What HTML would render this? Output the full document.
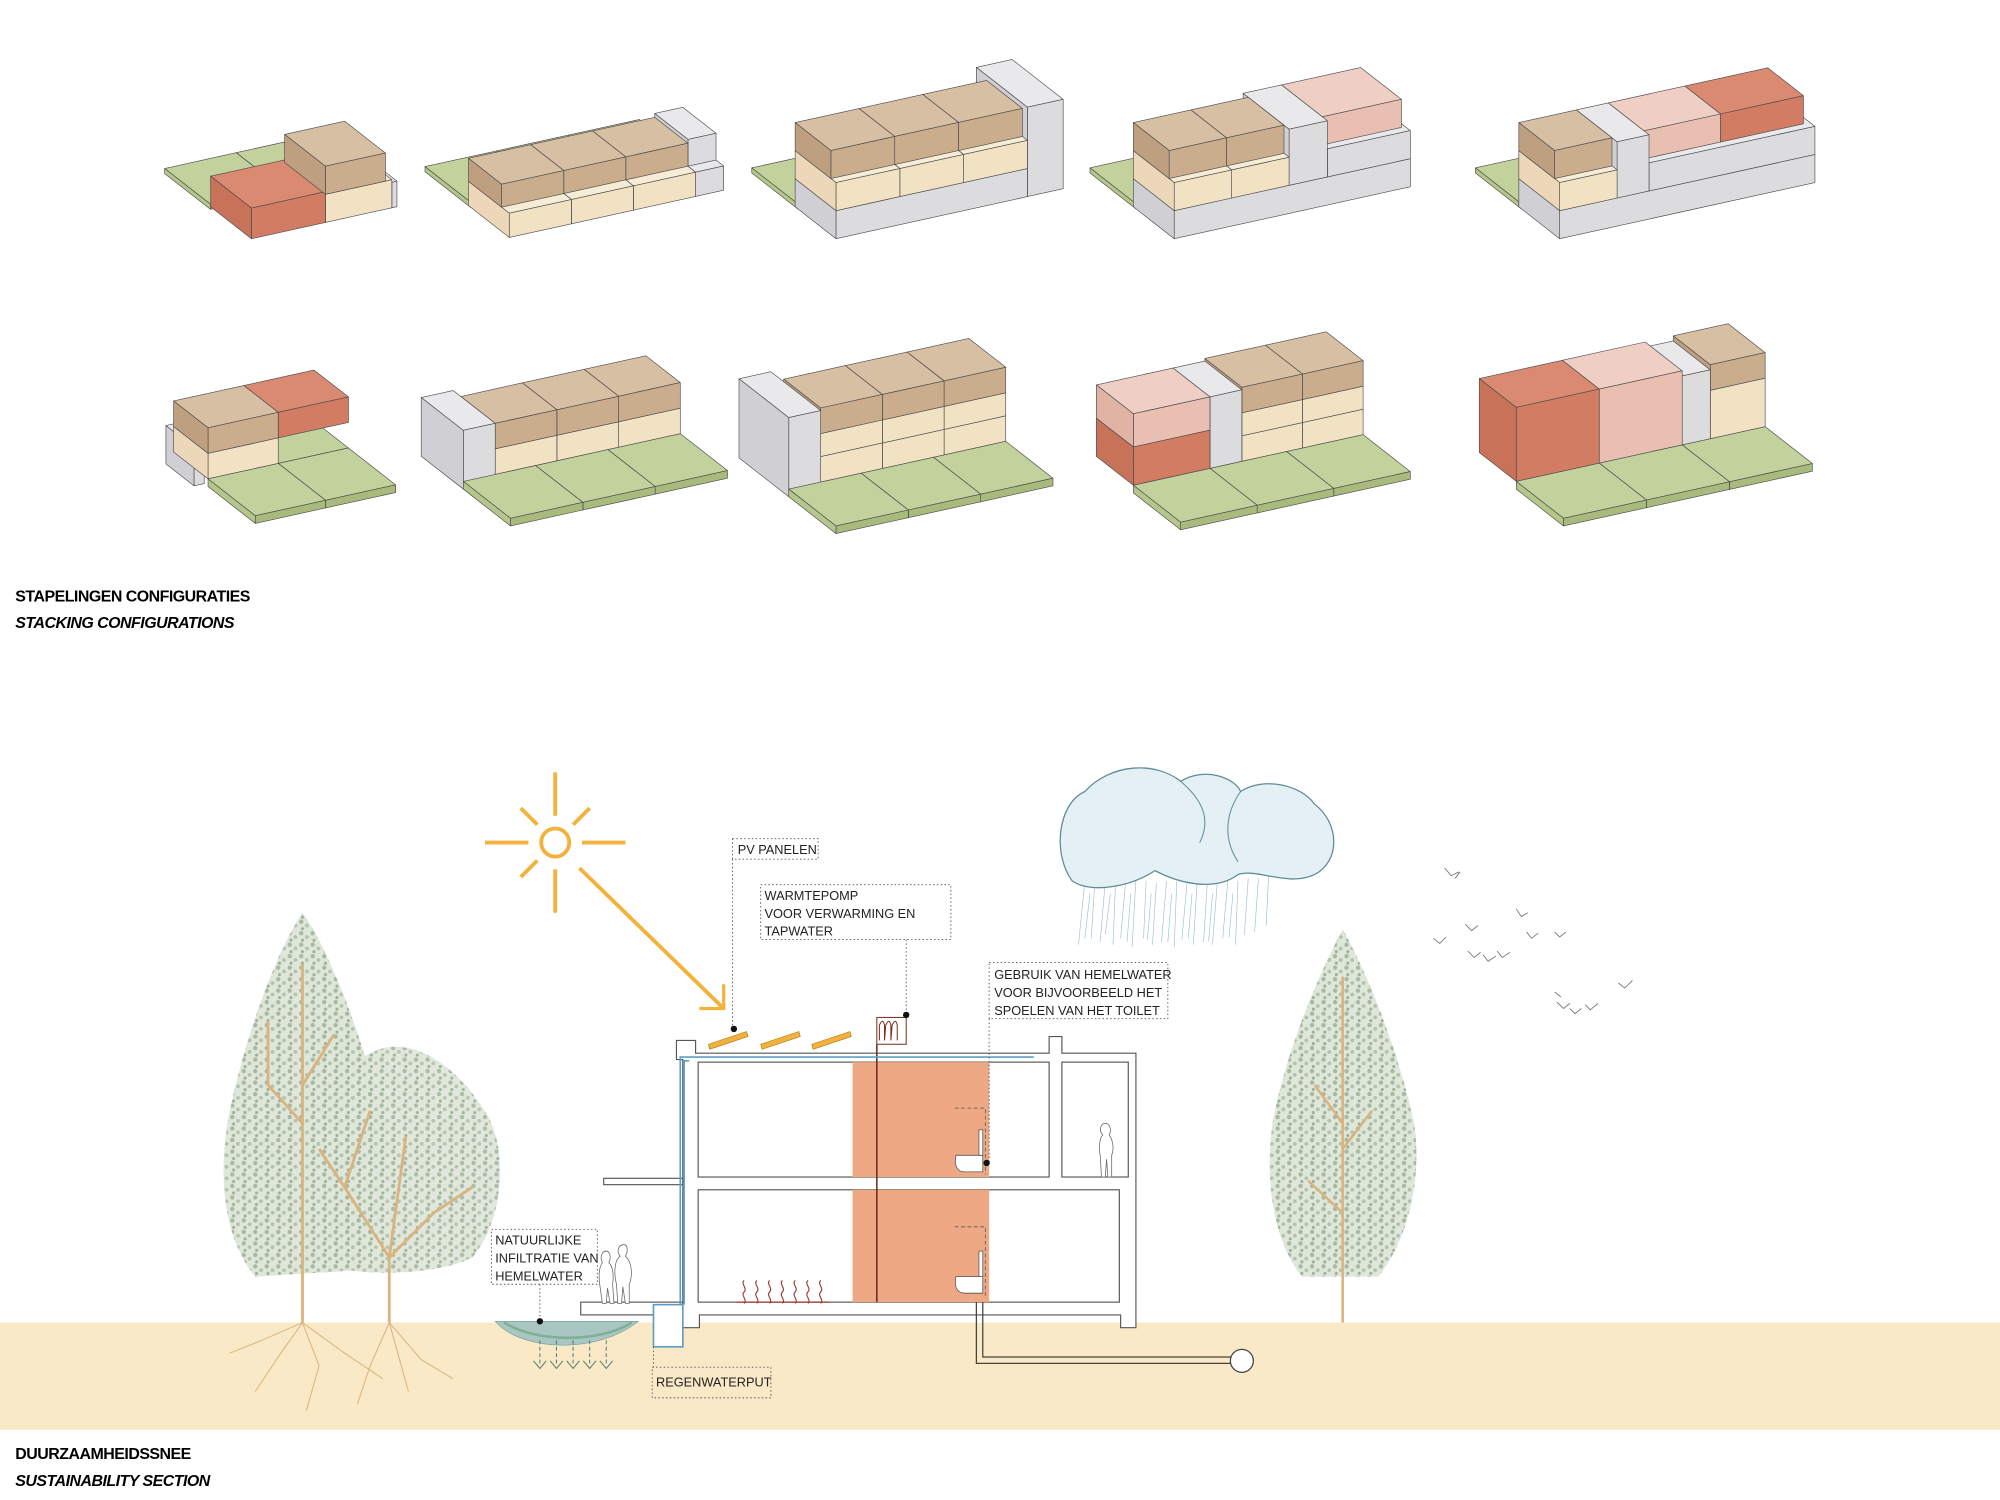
<!DOCTYPE html>
<html><head><meta charset="utf-8"><style>
html,body{margin:0;padding:0;background:#fff;}
svg{display:block;}
</style></head><body>
<svg id="s" width="2000" height="1500" viewBox="0 0 1567 1175" preserveAspectRatio="none" xmlns="http://www.w3.org/2000/svg" font-family="'Liberation Sans', sans-serif">
<defs>
<pattern id="leaf" width="9" height="9" patternUnits="userSpaceOnUse">
<rect width="9" height="9" fill="#dfe6da"/>
<circle cx="2" cy="2" r="1.7" fill="#a7b9a0"/><circle cx="6.5" cy="5" r="1.5" fill="#b3c3ab"/><circle cx="3" cy="7.5" r="1.2" fill="#9cb094"/>
</pattern>
</defs>
<rect width="1567" height="1175" fill="#fff"/>
<g id="iso" stroke="#4a4a4a" stroke-width="0.5" stroke-linejoin="round"></g>

<text x="12" y="471" font-size="12.5" font-weight="bold" letter-spacing="-0.4">STAPELINGEN CONFIGURATIES</text>
<text x="12" y="492" font-size="12.5" font-weight="bold" font-style="italic" letter-spacing="-0.4">STACKING CONFIGURATIONS</text>
<text x="12" y="1143" font-size="12.5" font-weight="bold" letter-spacing="-0.4">DUURZAAMHEIDSSNEE</text>
<text x="12" y="1164" font-size="12.5" font-weight="bold" font-style="italic" letter-spacing="-0.4">SUSTAINABILITY SECTION</text>

<rect x="0" y="1036" width="1567" height="84" fill="#fae9c6"/>

<!-- trees -->
<g>
<path d="M237 715 C255 740 280 800 295 860 C305 900 305 960 280 995 L200 1000 C175 970 170 920 180 870 C195 800 220 740 237 715Z" fill="url(#leaf)"/>
<path d="M310 820 C340 820 370 850 385 880 C398 910 392 960 370 985 C340 1000 280 1000 250 990 C235 960 240 900 255 860 C270 835 290 820 310 820Z" fill="url(#leaf)" opacity="0.95"/>
<g stroke="#d9b47f" stroke-width="2.2" fill="none">
<line x1="237" y1="755" x2="237" y2="1036"/>
<line x1="305" y1="985" x2="305" y2="1036"/>
<path d="M237 880 L210 850 L210 800 M237 850 L262 810 M305 985 L270 930 L250 900 M305 985 L340 950 L370 930 M305 985 L318 890 M270 930 L290 870"/>
</g>
<g stroke="#d9b47f" stroke-width="0.8" fill="none">
<path d="M237 1036 L220 1060 L200 1090 M237 1036 L250 1070 L240 1105 M237 1036 L270 1060 L300 1080 M237 1036 L205 1050 L180 1060 M305 1036 L290 1070 L280 1100 M305 1036 L330 1065 L355 1080 M305 1036 L320 1090"/>
</g>
<path d="M1052 728 C1070 760 1095 820 1108 880 C1115 930 1100 975 1080 1000 L1020 1000 C1000 975 990 930 997 880 C1008 820 1035 760 1052 728Z" fill="url(#leaf)"/>
<g stroke="#d9b47f" stroke-width="2" fill="none"><line x1="1052" y1="765" x2="1052" y2="1036"/><path d="M1052 880 L1030 850 M1052 900 L1075 870 M1052 950 L1025 925"/></g>
</g>

<!-- sun -->
<g stroke="#f2b23c" stroke-width="3" fill="none">
<circle cx="435" cy="660" r="11"/>
<line x1="380" y1="660" x2="414" y2="660"/><line x1="456" y1="660" x2="490" y2="660"/>
<line x1="435" y1="605" x2="435" y2="639"/><line x1="435" y1="681" x2="435" y2="715"/>
<line x1="408" y1="633" x2="421" y2="646"/><line x1="462" y1="633" x2="449" y2="646"/>
<line x1="408" y1="687" x2="421" y2="674"/>
<line x1="454" y1="680" x2="567" y2="790"/>
<polyline points="548,790 567,790 567,771" stroke-width="2.5"/>
</g>

<!-- cloud -->
<g>
<g stroke="#8fb9cc" stroke-width="0.5" opacity="0.9">
<path d="M850 690 L845 740 M858 688 L855 735 M866 690 L862 738 M874 692 L872 740 M882 690 L878 735 M890 688 L887 742 M898 690 L896 735 M906 692 L903 740 M914 690 L910 738 M922 690 L920 742 M930 692 L926 736 M938 690 L935 740 M946 690 L943 738 M954 688 L950 740 M962 690 L958 735 M970 690 L968 740 M978 688 L975 732 M986 688 L983 730 M994 686 L992 725 M854 700 L850 735 M870 700 L866 732 M886 700 L883 738 M902 700 L899 736 M918 700 L915 738 M934 700 L931 735 M950 700 L947 737 M966 700 L963 734"/>
</g>
<path d="M840 690 C825 670 828 630 850 620 C870 598 905 596 925 612 C945 600 968 610 972 620 C990 608 1020 615 1030 630 C1050 645 1050 675 1030 685 C1010 695 985 680 970 685 C950 700 920 690 905 682 C885 695 855 700 840 690Z" fill="#e4f0f3" stroke="#5e8d98" stroke-width="1"/>
<path d="M925 612 C940 625 950 640 940 660 M972 620 C958 640 960 660 970 675" fill="none" stroke="#5e8d98" stroke-width="0.8"/>
</g>

<!-- birds -->
<g stroke="#777" stroke-width="0.7" fill="none">
<path d="M1132 680 l5 6 l6 -3 M1140 688 l4 -5"/><path d="M1188 712 l4 6 l5 -3"/><path d="M1148 724 l5 5 l5 -4"/><path d="M1123 735 l5 4 l5 -5"/>
<path d="M1150 745 l5 5 l5 -4"/><path d="M1162 748 l4 5 l6 -4"/><path d="M1173 745 l4 5 l6 -4"/><path d="M1196 730 l4 5 l5 -4"/><path d="M1218 730 l4 4 l5 -4"/>
<path d="M1268 770 l5 4 l6 -6"/><path d="M1220 785 l5 5 l5 -4"/><path d="M1230 790 l4 4 l5 -4"/><path d="M1242 787 l4 4 l6 -5"/><path d="M1218 777 l5 4"/>
</g>

<!-- building section -->
<g fill="#fff" stroke="#555" stroke-width="0.9">
<rect x="455" y="1020" width="80" height="10"/>
<rect x="473" y="923" width="62" height="5"/>
<path d="M530 815 L545 815 L545 825 L822 825 L822 812 L832 812 L832 825 L890 825 L890 1040 L878 1040 L878 1030 L548 1030 L548 1040 L535 1040 L535 830 L530 830Z"/>
<rect x="547" y="832" width="275" height="90"/>
<rect x="832" y="832" width="52" height="90"/>
<rect x="547" y="932" width="330" height="88"/>
</g>
<rect x="668" y="832" width="107" height="90" fill="#eea883"/>
<rect x="668" y="932" width="107" height="88" fill="#eea883"/>
<line x1="687" y1="818" x2="687" y2="1020" stroke="#6b2a1e" stroke-width="1.2"/>
<g fill="#fff" stroke="#555" stroke-width="0.6">
<path d="M749 905 L770 905 L770 918 L756 918 C748 918 748 910 749 905Z"/><rect x="767" y="885" width="3" height="20"/>
<path d="M749 1000 L770 1000 L770 1013 L756 1013 C748 1013 748 1005 749 1000Z"/><rect x="767" y="980" width="3" height="20"/>
</g>
<g stroke="#555" stroke-width="0.6" stroke-dasharray="3 2" fill="none"><path d="M748 868 L772 868 L772 920"/><path d="M748 961 L772 961 L772 1015"/></g>
<g stroke="#9c3b2c" stroke-width="0.9" fill="none">
<path d="M583 1003 c-3 3 3 6 0 9 c-3 3 3 6 0 9 M593 1003 c-3 3 3 6 0 9 c-3 3 3 6 0 9 M603 1003 c-3 3 3 6 0 9 c-3 3 3 6 0 9 M613 1003 c-3 3 3 6 0 9 c-3 3 3 6 0 9 M623 1003 c-3 3 3 6 0 9 c-3 3 3 6 0 9 M633 1003 c-3 3 3 6 0 9 c-3 3 3 6 0 9 M643 1003 c-3 3 3 6 0 9 c-3 3 3 6 0 9"/>
<line x1="577" y1="1020" x2="650" y2="1020"/>
</g>
<g stroke="#5f9fc4" stroke-width="1.3" fill="none">
<path d="M533 1022 L533 828 L810 828"/><path d="M536 1022 L536 831 L540 831"/>
<rect x="512" y="1022" width="23" height="33" fill="#fff"/>
</g>
<g fill="#f0b23c" stroke="#b07a18" stroke-width="0.5">
<polygon points="555,818 585,808 586,812 556,822"/><polygon points="596,818 626,808 627,812 597,822"/><polygon points="636,818 666,808 667,812 637,822"/>
</g>
<rect x="687" y="797" width="23" height="21" fill="#fff" stroke="#7a2f22" stroke-width="0.8"/>
<path d="M689 815 l0 -12 c2 -4 3 -4 4 0 l0 12 l1 -12 c2 -4 3 -4 4 0 l0 12 l1 -12 c2 -4 3 -4 4 0 l0 12" fill="none" stroke="#7a2f22" stroke-width="0.8"/>
<path d="M765 1020 L765 1068 L965 1068 M770 1020 L770 1063 L965 1063" stroke="#444" stroke-width="1" fill="none"/>
<circle cx="973" cy="1066" r="9" fill="#fff" stroke="#444" stroke-width="1"/>
<path d="M388 1035 C410 1060 470 1060 500 1035 Z" fill="#a9c6c2" stroke="#6f9d98" stroke-width="0.5"/>
<path d="M395 1036 C420 1052 470 1052 495 1036" fill="none" stroke="#7faf94" stroke-width="2"/>
<g stroke="#4f7f7a" stroke-width="0.8" fill="none">
<path d="M423 1050 V1070 M436 1050 V1070 M449 1050 V1070 M462 1050 V1070 M475 1050 V1070" stroke-dasharray="3 2"/>
<path d="M418 1066 l5 6 l5 -6 M431 1066 l5 6 l5 -6 M444 1066 l5 6 l5 -6 M457 1066 l5 6 l5 -6 M470 1066 l5 6 l5 -6"/>
</g>
<g fill="#fff" stroke="#666" stroke-width="0.6">
<path d="M475 980 c-4 0 -5 6 -3 9 c-3 4 -3 12 -2 18 l2 14 l3 0 l1 -12 l2 12 l3 0 l-1 -15 c1 -8 0 -14 -3 -17 c2 -3 1 -9 -2 -9z"/>
<path d="M489 975 c-5 0 -6 6 -3 9 c-5 3 -5 15 -3 22 l1 15 l3 0 l1 -13 l2 13 l3 0 l0 -15 c3 -7 2 -18 -3 -22 c2 -3 2 -9 -1 -9z"/>
<path d="M866 880 c-4 0 -5 6 -2 9 c-3 3 -3 12 -2 16 l1 17 l3 0 l1 -14 l1 14 l3 0 l0 -17 c2 -5 1 -12 -2 -16 c2 -3 1 -9 -3 -9z"/>
</g>

<g font-size="10" fill="#222">
<g fill="none" stroke="#555" stroke-width="0.7" stroke-dasharray="1.2 1.8">
<rect x="574" y="657" width="67" height="16"/><line x1="574" y1="673" x2="574" y2="806"/>
<rect x="596" y="693" width="149" height="43"/><line x1="710" y1="736" x2="710" y2="795"/>
<rect x="775" y="754" width="140" height="44"/><line x1="775" y1="798" x2="775" y2="910"/>
<rect x="385" y="963" width="83" height="43"/><line x1="423" y1="1006" x2="423" y2="1035"/>
<rect x="511" y="1071" width="93" height="24"/><line x1="512" y1="1055" x2="512" y2="1071"/>
</g>
<g fill="#111"><circle cx="575" cy="806" r="2.5"/><circle cx="710" cy="795" r="2.5"/><circle cx="773" cy="911" r="2.5"/><circle cx="423" cy="1035" r="2.5"/></g>
<text x="578" y="669">PV PANELEN</text>
<text x="599" y="705">WARMTEPOMP</text><text x="599" y="719">VOOR VERWARMING EN</text><text x="599" y="733">TAPWATER</text>
<text x="779" y="767">GEBRUIK VAN HEMELWATER</text><text x="779" y="781">VOOR BIJVOORBEELD HET</text><text x="779" y="795">SPOELEN VAN HET TOILET</text>
<text x="388" y="975">NATUURLIJKE</text><text x="388" y="989">INFILTRATIE VAN</text><text x="388" y="1003">HEMELWATER</text>
<text x="514" y="1086">REGENWATERPUT</text>
</g>
</svg>
<script>
(function(){
var C={g:['#c3d19c','#a9bb7c','#b5c68b'],c:['#f7ecd6','#f2e2c4','#ecd8b8'],b:['#d6bfa2','#c9ad8c','#bea081'],r:['#d98a71','#d27d63','#c87259'],p:['#efcfc4','#e8bfb1','#e0b3a4'],gr:['#e9e9eb','#dcdcdf','#d0d0d4']};
var G=document.getElementById('iso');
function poly(pts,f){var e=document.createElementNS('http://www.w3.org/2000/svg','polygon');e.setAttribute('points',pts.map(function(p){return p[0].toFixed(1)+','+p[1].toFixed(1)}).join(' '));e.setAttribute('fill',f);G.appendChild(e);}
function grp(o,boxes){
 var V=[-1,-0.78];
 function P(u,v,w){return [o[0]+u+V[0]*v, o[1]-0.22*u+V[1]*v-w];}
 boxes.forEach(function(b){
  var m=C[b[0]],u0=b[1],u1=b[2],v0=b[3],v1=b[4],w0=b[5],w1=b[6],n=b[7]||1;
  for(var i=n-1;i>=0;i--){var a=u0+(u1-u0)*i/n,z=u0+(u1-u0)*(i+1)/n;
   poly([P(a,v0,w1),P(z,v0,w1),P(z,v1,w1),P(a,v1,w1)],m[0]);
   poly([P(a,v0,w0),P(z,v0,w0),P(z,v0,w1),P(a,v0,w1)],m[1]);
   poly([P(a,v0,w0),P(a,v1,w0),P(a,v1,w1),P(a,v0,w1)],m[2]);}
 });
}
/* top row */
grp([197,187],[['g',-2,110,30,66,0,4,2],['gr',110,114,0,32,0,20],['c',58,110,0,32,0,22],['r',0,58,0,32,0,24],['b',58,105,0,32,22,44]]);
grp([399,186],[['g',0,168,30,66,0,4,3],['gr',146,168,0,32,0,19],['gr',146,168,6,32,19,40],['c',0,146,0,32,0,19,3],['b',0,146,6,32,19,37,3]]);
grp([655,187],[['g',0,150,30,66,0,4,3],['gr',150,178,0,40,0,70],['gr',0,150,0,32,0,22],['c',0,150,0,32,22,44,3],['b',0,150,4,32,44,66,3]]);
grp([920,187],[['g',0,150,30,66,0,4,2],['gr',0,185,0,32,0,22],['gr',120,185,0,32,22,44],['p',120,182,4,36,44,66],['gr',90,120,0,36,22,66],['c',0,90,0,32,22,44,2],['b',0,90,4,32,44,66,2]]);
grp([1222,187],[['g',0,80,30,66,0,4],['gr',0,200,0,32,0,22],['gr',70,200,0,32,22,44],['r',130,195,4,32,44,66],['p',70,130,4,32,44,66],['gr',45,70,0,32,22,66],['c',0,45,0,32,22,44],['b',0,45,4,32,44,66]]);
/* bottom row */
grp([200,410],[['g',55,110,37,64,0,6],['r',55,110,37,64,26,46],['gr',-8,0,40,62,0,30],['c',0,55,37,64,6,26],['b',0,55,37,64,26,46],['g',0,110,0,37,0,6,2]]);
grp([400,412],[['c',25,170,37,64,6,26,3],['b',25,170,37,64,26,46,3],['gr',0,25,37,70,0,46],['g',0,170,0,37,0,6,3]]);
grp([655,418],[['c',25,170,37,66,6,26,3],['c',25,170,37,66,26,44,3],['b',25,170,37,66,44,64,3],['gr',0,25,37,76,0,62],['g',0,170,0,37,0,6,3]]);
grp([925,415],[['c',85,180,37,66,6,26,2],['c',85,180,37,66,26,44,2],['b',85,180,37,66,44,64,2],['gr',60,85,37,66,6,62],['r',0,60,37,66,6,36],['p',0,60,37,66,36,62],['g',0,180,0,37,0,6,3]]);
grp([1225,412],[['c',152,195,37,66,6,44],['b',152,195,37,66,44,64],['gr',130,152,37,66,6,60],['p',65,130,37,66,6,64],['r',0,65,37,66,6,64],['g',0,195,0,37,0,6,3]]);
})();
</script>
</body></html>
